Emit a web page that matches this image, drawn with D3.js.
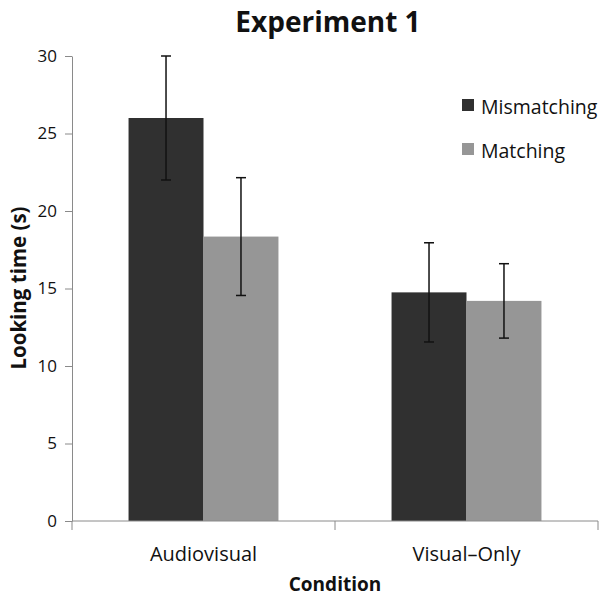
<!DOCTYPE html>
<html>
<head>
<meta charset="utf-8">
<script src="https://cdn.jsdelivr.net/npm/d3@7"></script>
<style>
  body { margin: 0; background: #fff; }
  text { font-family: "Open Sans", sans-serif; fill: #111; }
</style>
</head>
<body>
<div id="vis"></div>
<script>
const conditions = ["Audiovisual", "Visual\u2013Only"];
const series = ["Mismatching", "Matching"];
const mismatching = [26.0, 14.75];
const matching = [18.35, 14.2];
const mismatching_err = [4.0, 3.2];
const matching_err = [3.8, 2.4];
const y_ticks = [0, 5, 10, 15, 20, 25, 30];
const colors = ["#303030", "#969696"];

const frame_width = 605;
const frame_height = 598;
const margins = {left: 72, right: 7, top: 56, bottom: 77};

const rows = [];
conditions.forEach((c, i) => {
  rows.push({cond: c, s: series[0], v: mismatching[i], e: mismatching_err[i]});
  rows.push({cond: c, s: series[1], v: matching[i], e: matching_err[i]});
});

const svg = d3.select("#vis")
  .append("svg")
    .attr("width", frame_width)
    .attr("height", frame_height);

const x_scale = d3.scaleBand()
  .domain(conditions)
  .range([margins.left, frame_width - margins.right]);

const x_inner = d3.scaleBand()
  .domain(series)
  .range([0, x_scale.bandwidth() * 0.57]);

const y_scale = d3.scaleLinear()
  .domain([0, 30])
  .range([frame_height - margins.bottom, margins.top]);

const group_off = (x_scale.bandwidth() - x_inner.range()[1]) / 2;

// bars
svg.selectAll(".bar")
  .data(rows)
  .enter()
  .append("rect")
    .attr("x", d => x_scale(d.cond) + group_off + x_inner(d.s))
    .attr("y", d => y_scale(d.v))
    .attr("width", x_inner.bandwidth())
    .attr("height", d => y_scale(0) - y_scale(d.v))
    .attr("fill", d => colors[series.indexOf(d.s)]);

// error bars
const ex = d => x_scale(d.cond) + group_off + x_inner(d.s) + x_inner.bandwidth() / 2;
const errs = svg.selectAll(".err").data(rows).enter().append("g")
  .attr("stroke", "#111").attr("stroke-width", 1.5);
errs.append("line")
  .attr("x1", ex).attr("x2", ex)
  .attr("y1", d => y_scale(d.v + d.e)).attr("y2", d => y_scale(d.v - d.e));
errs.append("line")
  .attr("x1", d => ex(d) - 5).attr("x2", d => ex(d) + 5)
  .attr("y1", d => y_scale(d.v + d.e)).attr("y2", d => y_scale(d.v + d.e));
errs.append("line")
  .attr("x1", d => ex(d) - 5).attr("x2", d => ex(d) + 5)
  .attr("y1", d => y_scale(d.v - d.e)).attr("y2", d => y_scale(d.v - d.e));

// y axis
const y_axis = svg.append("g")
  .attr("transform", "translate(" + margins.left + ",0)")
  .call(d3.axisLeft(y_scale).tickValues(y_ticks).tickSize(7).tickSizeOuter(0).tickPadding(8));
y_axis.selectAll("line, path").attr("stroke", "#8a8a8a");
y_axis.selectAll("text").attr("font-size", "17px").attr("font-family", "Open Sans").attr("fill", "#111");

// x axis
const x_axis = svg.append("g")
  .attr("transform", "translate(0," + y_scale(0) + ")");
x_axis.append("line")
  .attr("x1", margins.left).attr("x2", frame_width - margins.right)
  .attr("stroke", "#8a8a8a");
const x_edges = [x_scale(conditions[0]), x_scale(conditions[1]), x_scale(conditions[1]) + x_scale.bandwidth()];
x_axis.selectAll(".xt").data(x_edges).enter().append("line")
  .attr("x1", d => d).attr("x2", d => d).attr("y1", 0).attr("y2", 9)
  .attr("stroke", "#8a8a8a");
x_axis.selectAll(".xl").data(conditions).enter().append("text")
  .attr("x", d => x_scale(d) + x_scale.bandwidth() / 2)
  .attr("y", 39.5)
  .attr("text-anchor", "middle")
  .attr("font-size", "20px")
  .text(d => d);

// titles
svg.append("text")
  .attr("x", 328).attr("y", 32)
  .attr("text-anchor", "middle")
  .attr("font-size", "28px").attr("font-weight", "bold")
  .text("Experiment 1");

svg.append("text")
  .attr("x", 335).attr("y", 591)
  .attr("text-anchor", "middle")
  .attr("font-size", "19px").attr("font-weight", "bold")
  .text("Condition");

svg.append("text")
  .attr("transform", "translate(26,288) rotate(-90)")
  .attr("text-anchor", "middle")
  .attr("font-size", "20.5px").attr("font-weight", "bold")
  .text("Looking time (s)");

// legend
const legend = svg.selectAll(".leg").data(series).enter().append("g")
  .attr("transform", (d, i) => "translate(462," + (99 + i * 44) + ")");
legend.append("rect")
  .attr("width", 12).attr("height", 12)
  .attr("fill", (d, i) => colors[i]);
legend.append("text")
  .attr("x", 19).attr("y", 15)
  .attr("font-size", "19.5px")
  .text(d => d);
</script>
</body>
</html>
